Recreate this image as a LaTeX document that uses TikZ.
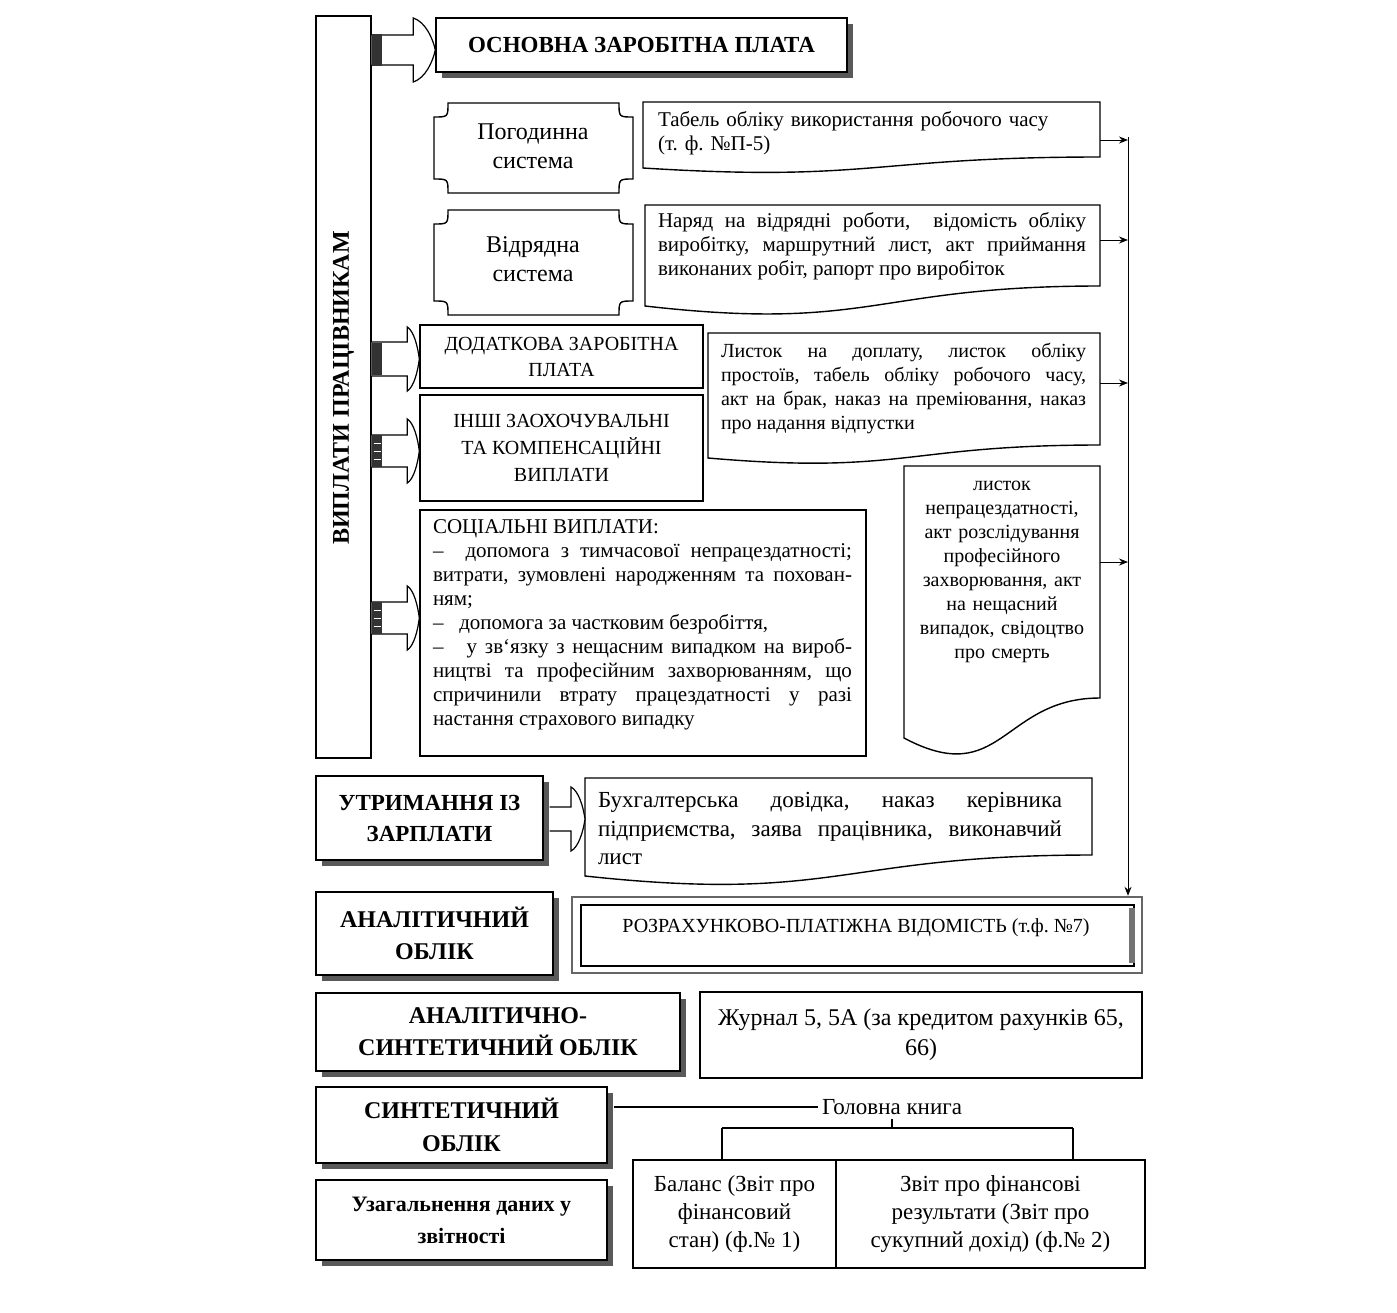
\documentclass[tikz,border=0pt]{standalone}
\usepackage{fontspec}
\setmainfont{Liberation Serif}
\usetikzlibrary{arrows.meta,calc,shadows}
\frenchspacing
\tikzset{
  box/.style={draw, line width=0.7pt, fill=white, inner sep=0pt, align=center},
  shbox/.style={box, drop shadow={shadow xshift=3pt, shadow yshift=-3pt, fill=black!65, opacity=1}},
  conn/.style={line width=0.5pt, -{Stealth[length=4.5pt,width=3.5pt]}},
  ln/.style={line width=0.6pt},
  docsty/.style={draw, line width=0.7pt, fill=white},
  barsty/.style={draw, line width=0.6pt, fill=white},
  txt/.style={inner sep=0pt},
  fa/.style={font=\fontsize{10.5}{12}\selectfont},
  fb/.style={font=\fontsize{10}{12}\selectfont},
  fc/.style={font=\fontsize{12}{14.5}\selectfont},
  fcap/.style={font=\fontsize{10}{13}\selectfont},
  fbuh/.style={font=\fontsize{11.5}{14.25}\selectfont},
  fhd/.style={font=\fontsize{12}{16}\selectfont\bfseries},
  ftab/.style={font=\fontsize{11.5}{14}\selectfont},
}
% #1 start, #2 tip, #3 head length, #4 shaft half height
\newcommand\blockarrow[4]{%
  \draw[barsty] let \p1=(#1), \p2=(#2) in
   (\x1,\y1+#4) -- (\x2-#3,\y1+#4) -- (\x2-#3,\y1+16pt)
   .. controls (\x2-0.45*#3,\y1+14pt) and (\x2-0.12*#3,\y1+6pt) .. (\x2,\y1)
   .. controls (\x2-0.12*#3,\y1-6pt) and (\x2-0.45*#3,\y1-14pt) .. (\x2-#3,\y1-16pt)
   -- (\x2-#3,\y1-#4) -- (\x1,\y1-#4);}
\newcommand\darkpart[1]{%
  \fill[black!80] let \p1=(#1) in (\x1,\y1-8pt) rectangle (\x1+5pt,\y1+8pt);}
\newcommand\stripes[1]{%
  \draw[white, line width=0.5pt] let \p1=(#1) in (\x1+1pt,\y1-4pt) -- (\x1+4.5pt,\y1-4pt)
    (\x1+1pt,\y1+4pt) -- (\x1+4.5pt,\y1+4pt) (\x1+1pt,\y1) -- (\x1+4.5pt,\y1);}
\newcommand\docshape[5]{%
  \draw[docsty] (#1,#2) -- (#3,#2) -- (#3,#4)
   .. controls ({(#1+#3)/2},#4) and ({(#1+#3)/2},{#5+1.3*(#5-#4)}) .. (#1,#5) -- cycle;}
\newcommand\plaque[4]{%
  \draw[docsty] (#1+14,#2) -- (#3-14,#2) .. controls (#3-14,#2+14) .. (#3,#2+14)
   -- (#3,#4-14) .. controls (#3-14,#4-14) .. (#3-14,#4)
   -- (#1+14,#4) .. controls (#1+14,#4-14) .. (#1,#4-14)
   -- (#1,#2+14) .. controls (#1+14,#2+14) .. (#1+14,#2) -- cycle;}

\begin{document}
\begin{tikzpicture}[x=0.5pt,y=-0.5pt]
\useasboundingbox[fill=white] (0,0) rectangle (1397,1312);

% ---------- left column ----------
\node[box, minimum width=27.5pt, minimum height=371pt] (big) at (343.5,387) {};
\node[txt, rotate=90, font=\fontsize{12}{14}\selectfont\bfseries] (bigt) at (343.5,388) {ВИПЛАТИ ПРАЦІВНИКАМ};

\node[shbox, minimum width=205.5pt, minimum height=27pt, font=\fontsize{11.5}{14}\selectfont\bfseries] (osn) at (641.5,45) {ОСНОВНА ЗАРОБІТНА ПЛАТА};

\plaque{434}{103}{633}{193}
\node[txt, fc, align=center] (pog) at (533,146) {Погодинна\\система};
\plaque{434}{210}{633}{315}
\node[txt, fc, align=center] (vid) at (533,259.5) {Відрядна\\система};

\node[box, fcap, minimum width=141.5pt, minimum height=31.5pt] (dod) at (561.5,356.5) {ДОДАТКОВА ЗАРОБІТНА\\ПЛАТА};
\node[box, font=\fontsize{10}{13.5}\selectfont, minimum width=141.5pt, minimum height=53pt] (inshi) at (561.5,448) {ІНШІ ЗАОХОЧУВАЛЬНІ\\ТА КОМПЕНСАЦІЙНІ\\ВИПЛАТИ};

\node[box, minimum width=223pt, minimum height=123pt] (socb) at (643,633) {};
\node[txt, fa, text width=209.5pt, align=justify] (soct) at (642.5,625) {СОЦІАЛЬНІ ВИПЛАТИ:\\
–\ \ допомога з тимчасової непрацездатності;\linebreak витрати, зумовлені народженням та похован-\linebreak ням;\\
–\ \ \ допомога за частковим безробіття,\\
–\ \ \ у зв`язку з нещасним випадком на вироб-\linebreak ництві та професійним захворюванням, що\linebreak спричинили втрату працездатності у разі\linebreak настання страхового випадку};

% ---------- block arrows ----------
\coordinate (a1s) at (big.east |- 0,50);  \coordinate (a1e) at (osn.west |- 0,50);
\coordinate (a2s) at (big.east |- 0,359); \coordinate (a2e) at (dod.west |- 0,359);
\coordinate (a3s) at (big.east |- 0,451); \coordinate (a3e) at (inshi.west |- 0,451);
\coordinate (a4s) at (big.east |- 0,618); \coordinate (a4e) at (socb.west |- 0,618);
\blockarrow{a1s}{a1e}{11pt}{7.5pt}
\blockarrow{a2s}{a2e}{6pt}{8.5pt}
\blockarrow{a3s}{a3e}{6pt}{8pt}
\blockarrow{a4s}{a4e}{6pt}{8pt}
\darkpart{a1s}\darkpart{a2s}\darkpart{a3s}\darkpart{a4s}
\stripes{a3s}\stripes{a4s}

% ---------- document shapes ----------
\docshape{643}{102}{1100}{157}{168}
\node[txt, fa, text width=216pt, align=left] (tab) at (874,133) {Табель обліку використання робочого часу\\(т. ф. №П-5)};
\docshape{645}{205}{1100}{286}{306}
\node[txt, fa, text width=214pt, align=justify] (nar) at (872,246.5) {Наряд на відрядні роботи,\ \ відомість обліку\linebreak виробітку, маршрутний лист, акт приймання\linebreak виконаних робіт, рапорт про виробіток};
\docshape{708}{333}{1100}{445}{458}
\node[txt, fb, text width=182.5pt, align=justify] (lys) at (903.5,388) {Листок на доплату, листок обліку\linebreak простоїв, табель обліку робочого часу,\linebreak акт на брак, наказ на преміювання, наказ\linebreak про надання відпустки};
\docshape{904}{466}{1100}{698}{738}
\node[txt, fb, text width=90pt, align=center] (nepr) at (1002,571.5) {листок\\непрацездатності,\\акт розслідування\\професійного\\захворювання, акт\\на нещасний\\випадок, свідоцтво\\про смерть};

% ---------- right connectors ----------
\coordinate (vtop) at (1128,137);
\coordinate (tabR) at (1100,140);
\coordinate (narR) at (1100,240);
\coordinate (lysR) at (1100,383);
\coordinate (neprR) at (1100,562);
\foreach \c in {tabR,narR,lysR,neprR} \draw[conn] (\c) -- (\c -| vtop);

% ---------- lower part ----------
\node[shbox, font=\fontsize{11.5}{15.5}\selectfont\bfseries, minimum width=113.5pt, minimum height=42pt] (utr) at (429.5,818) {УТРИМАННЯ ІЗ\\ЗАРПЛАТИ};
\docshape{585}{778}{1092}{855}{876}
\node[txt, fbuh, text width=232pt, align=justify] (buh) at (830,828.5) {Бухгалтерська довідка, наказ керівника\linebreak підприємства, заява працівника, виконавчий\linebreak лист};
\coordinate (a5s) at ($(utr.east |- 0,819)+(6,0)$);
\coordinate (a5e) at (585,819);
\blockarrow{a5s}{a5e}{7pt}{6pt}

\node[shbox, fhd, minimum width=118.5pt, minimum height=41.5pt] (anal) at (434.5,933.5) {АНАЛІТИЧНИЙ\\ОБЛІК};
\node[draw=black!60, line width=1.2pt, fill=white, minimum width=285pt, minimum height=38pt, inner sep=0pt] (rozr) at (857,935) {};
\node[draw, line width=0.7pt, minimum width=276.5pt, minimum height=30.5pt, inner sep=0pt] (rozrin) at (857.5,935.5) {};
\fill[black!55] (1129,908) rectangle (1135,963);
\node[txt, fb] (rozrt) at (856,928) {РОЗРАХУНКОВО-ПЛАТІЖНА ВІДОМІСТЬ (т.ф. №7)};

\draw[conn] (vtop) -- (vtop |- rozr.north);

\node[shbox, fhd, minimum width=182pt, minimum height=39pt] (ansyn) at (498,1032) {АНАЛІТИЧНО-\\СИНТЕТИЧНИЙ ОБЛІК};
\node[box, font=\fontsize{12}{15}\selectfont, minimum width=221pt, minimum height=43pt] (zhur) at (921,1035) {Журнал 5, 5А (за кредитом рахунків 65,\\66)};

\node[shbox, font=\fontsize{12}{16.5}\selectfont\bfseries, minimum width=145.5pt, minimum height=38pt] (synt) at (461.5,1125) {СИНТЕТИЧНИЙ\\ОБЛІК};
\node[shbox, font=\fontsize{11}{16}\selectfont\bfseries, minimum width=145.5pt, minimum height=40pt] (uzag) at (461.5,1220) {Узагальнення даних у\\звітності};

\node[inner sep=2pt, ftab] (gk) at (892,1107) {Головна книга};
\node[box, ftab, minimum width=101.5pt, minimum height=54pt] (bal) at (734.5,1214) {Баланс (Звіт про\\фінансовий\\стан) (ф.№ 1)};
\node[box, ftab, minimum width=154.5pt, minimum height=54pt] (zvit) at (990.5,1214) {Звіт про фінансові\\результати (Звіт про\\сукупний дохід) (ф.№ 2)};

\draw[ln] ($(synt.east |- gk.west)+(6,0)$) -- (gk.west);
\coordinate (brL) at (722,1128);
\coordinate (brR) at (1073,1128);
\draw[ln] (gk.south) -- (gk.south |- brL);
\draw[ln] (brL) -- (brR);
\draw[ln] (brL) -- (brL |- bal.north);
\draw[ln] (brR) -- (brR |- zvit.north);
\end{tikzpicture}
\end{document}
